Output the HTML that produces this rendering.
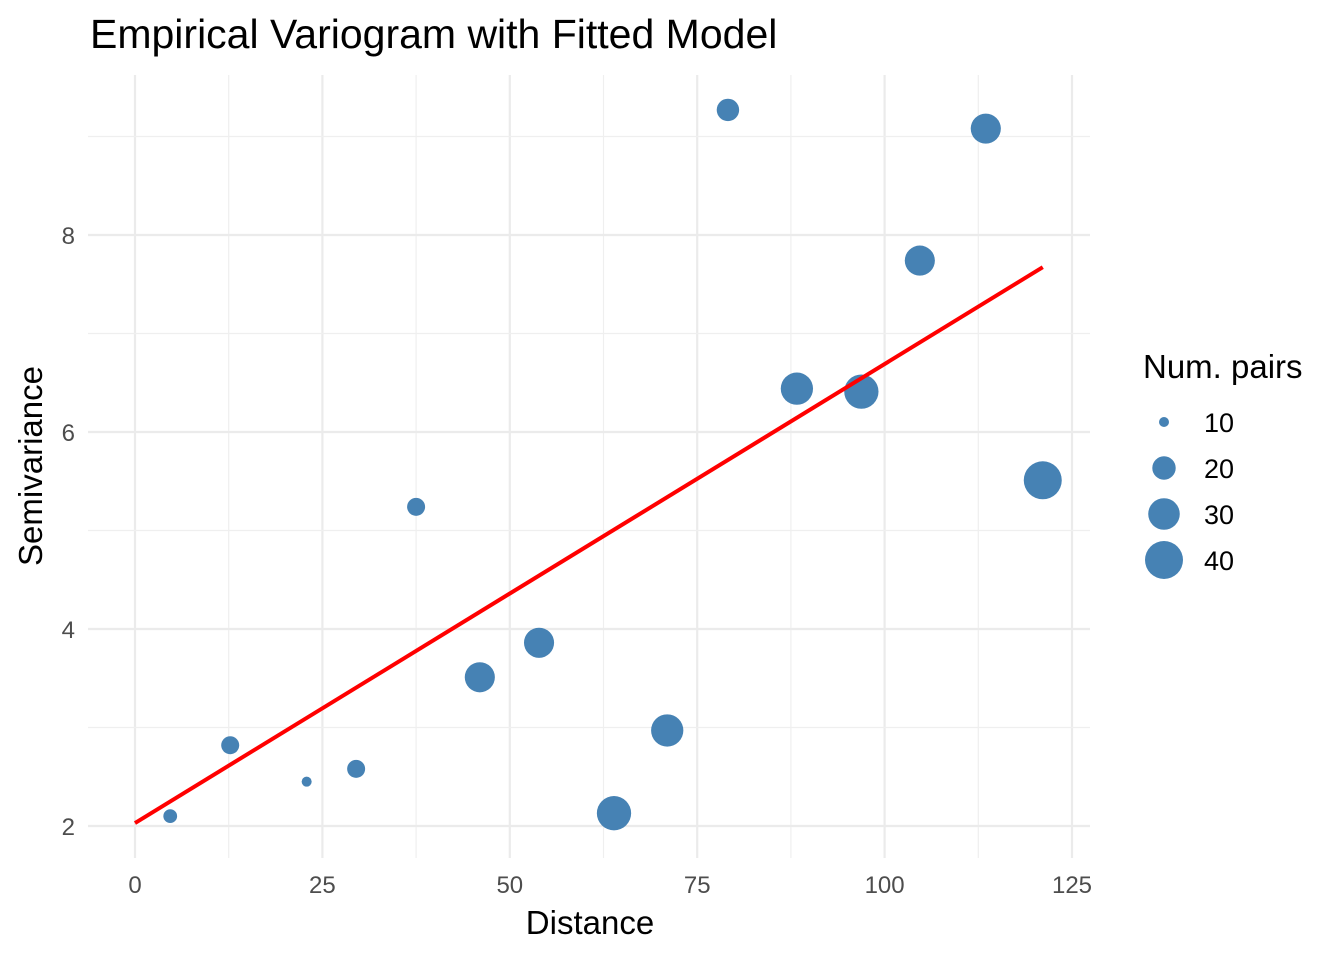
<!DOCTYPE html>
<html><head><meta charset="utf-8"><style>
body{margin:0;background:#fff;font-family:"Liberation Sans",Arial,sans-serif}
svg{display:block}
</style></head><body>
<svg id="chart" width="1344" height="960">
<text x="90" y="48" font-size="41" fill="#000">Empirical Variogram with Fitted Model</text>
<g id="grid"></g>
<g id="ticks"></g>
<g id="marks"></g>
<text x="590" y="934" font-size="33" text-anchor="middle" fill="#000">Distance</text>
<text transform="translate(42,466) rotate(-90)" font-size="33" text-anchor="middle" fill="#000">Semivariance</text>
<text x="1143" y="378" font-size="33" fill="#000">Num. pairs</text>
<g id="legend"></g>
</svg>
<script>
const distances=[4.7,12.7,22.9,29.5,37.5,46.0,53.9,63.9,71.0,79.1,88.3,96.9,104.7,113.5,121.1];
const gammas=[2.10,2.82,2.45,2.58,5.24,3.51,3.86,2.13,2.97,9.27,6.44,6.41,7.74,9.08,5.51];
const npairs=[12,15,10,15,15,28,28,34,31,19,31,34,28,28,40];
const fitIntercept=2.03;
const fitSlope=0.0466;
const xTicks=[0,25,50,75,100,125];
const yTicks=[2,4,6,8];
const legendValues=[10,20,30,40];
const NS="http://www.w3.org/2000/svg";
const sx=v=>135+v*7.496;
const sy=v=>826-(v-2)*98.5;
const sr=n=>Math.sqrt(25+11.2*(n-10));
function mk(tag,attrs,parent){const e=document.createElementNS(NS,tag);for(const k in attrs)e.setAttribute(k,attrs[k]);parent.appendChild(e);return e;}
const grid=document.getElementById('grid'),ticks=document.getElementById('ticks'),marks=document.getElementById('marks'),legend=document.getElementById('legend');
for(let i=0;i<xTicks.length;i++){
  const v=xTicks[i];
  const l=mk('line',{x1:sx(v),x2:sx(v),y1:75,y2:858,stroke:'#ebebeb','stroke-width':2.2},grid);
  
  
  if(i<xTicks.length-1){const m=(v+xTicks[i+1])/2;
    const ml=mk('line',{x1:sx(m),x2:sx(m),y1:75,y2:858,stroke:'#efefef','stroke-width':1.2},grid);
    
    }
  const t=mk('text',{x:sx(v),y:893,'font-size':24,'text-anchor':'middle',fill:'#4d4d4d'},ticks);
  t.textContent=v;
  
  
}
for(let i=0;i<yTicks.length;i++){
  const v=yTicks[i];
  const l=mk('line',{x1:88,x2:1090,y1:sy(v),y2:sy(v),stroke:'#ebebeb','stroke-width':2.2},grid);
  
  
  const m=v+1;
  const ml=mk('line',{x1:88,x2:1090,y1:sy(m),y2:sy(m),stroke:'#efefef','stroke-width':1.2},grid);
  
  
  const t=mk('text',{x:75,y:sy(v)+9,'font-size':24,'text-anchor':'end',fill:'#4d4d4d'},ticks);
  t.textContent=v;
  
  
}
for(let i=0;i<distances.length;i++){
  const c=mk('circle',{cx:sx(distances[i]),cy:sy(gammas[i]),r:sr(npairs[i]),fill:'#4682b4'},marks);
  
  
}
const xmax=Math.max(...distances);
const fl=mk('line',{x1:sx(0),y1:sy(fitIntercept),x2:sx(xmax),y2:sy(fitIntercept+fitSlope*xmax),stroke:'#ff0000','stroke-width':4},marks);


legendValues.forEach((n,i)=>{
  const y=422+i*46;
  const c=mk('circle',{cx:1164,cy:y,r:sr(n),fill:'#4682b4'},legend);
  
  
  const t=mk('text',{x:1204,y:y+10,'font-size':27,fill:'#000'},legend);
  t.textContent=n;
  
  
});
</script>
</body></html>
